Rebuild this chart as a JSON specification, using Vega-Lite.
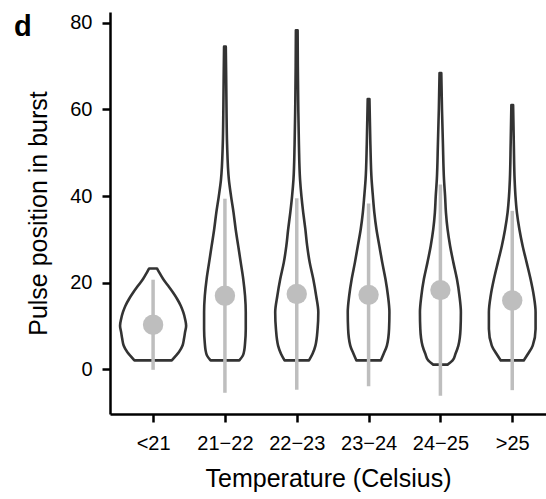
{
  "$schema": "https://vega.github.io/schema/vega-lite/v6.json",
  "width": 436,
  "height": 402,
  "padding": {"left": 14, "top": 12, "right": 0, "bottom": 5},
  "background": "white",
  "config": {"view": {"stroke": null}, "font": "Liberation Sans"},
  "title": {"text": "d", "anchor": "start", "frame": "group", "orient": "top", "offset": -53, "baseline": "alphabetic", "dx": -96, "fontSize": 29, "fontWeight": "bold", "color": "black"},
  "datasets": {
    "violin": [
      {"temp": "<21", "pos": 2.07, "density": 0.26},
      {"temp": "<21", "pos": 2.85, "density": 0.30},
      {"temp": "<21", "pos": 4.0, "density": 0.36},
      {"temp": "<21", "pos": 5.5, "density": 0.41},
      {"temp": "<21", "pos": 7.05, "density": 0.43},
      {"temp": "<21", "pos": 8.6, "density": 0.445},
      {"temp": "<21", "pos": 10.1, "density": 0.46},
      {"temp": "<21", "pos": 11.65, "density": 0.445},
      {"temp": "<21", "pos": 13.2, "density": 0.42},
      {"temp": "<21", "pos": 14.7, "density": 0.385},
      {"temp": "<21", "pos": 16.25, "density": 0.335},
      {"temp": "<21", "pos": 17.8, "density": 0.275},
      {"temp": "<21", "pos": 19.3, "density": 0.21},
      {"temp": "<21", "pos": 20.85, "density": 0.14},
      {"temp": "<21", "pos": 22.4, "density": 0.085},
      {"temp": "<21", "pos": 23.3, "density": 0.055},
      {"temp": "21−22", "pos": 2.07, "density": 0.2},
      {"temp": "21−22", "pos": 3.2, "density": 0.25},
      {"temp": "21−22", "pos": 4.5, "density": 0.27},
      {"temp": "21−22", "pos": 6.0, "density": 0.28},
      {"temp": "21−22", "pos": 9.35, "density": 0.29},
      {"temp": "21−22", "pos": 13.2, "density": 0.29},
      {"temp": "21−22", "pos": 17.0, "density": 0.28},
      {"temp": "21−22", "pos": 20.85, "density": 0.255},
      {"temp": "21−22", "pos": 24.7, "density": 0.22},
      {"temp": "21−22", "pos": 28.5, "density": 0.185},
      {"temp": "21−22", "pos": 32.3, "density": 0.15},
      {"temp": "21−22", "pos": 36.2, "density": 0.12},
      {"temp": "21−22", "pos": 40.0, "density": 0.085},
      {"temp": "21−22", "pos": 43.8, "density": 0.055},
      {"temp": "21−22", "pos": 52.0, "density": 0.03},
      {"temp": "21−22", "pos": 60.0, "density": 0.022},
      {"temp": "21−22", "pos": 68.0, "density": 0.017},
      {"temp": "21−22", "pos": 74.5, "density": 0.012},
      {"temp": "22−23", "pos": 2.07, "density": 0.17},
      {"temp": "22−23", "pos": 3.6, "density": 0.22},
      {"temp": "22−23", "pos": 5.5, "density": 0.26},
      {"temp": "22−23", "pos": 9.35, "density": 0.29},
      {"temp": "22−23", "pos": 13.2, "density": 0.30},
      {"temp": "22−23", "pos": 17.0, "density": 0.27},
      {"temp": "22−23", "pos": 20.85, "density": 0.23},
      {"temp": "22−23", "pos": 24.7, "density": 0.18},
      {"temp": "22−23", "pos": 28.5, "density": 0.145},
      {"temp": "22−23", "pos": 32.3, "density": 0.12},
      {"temp": "22−23", "pos": 36.2, "density": 0.09},
      {"temp": "22−23", "pos": 40.0, "density": 0.065},
      {"temp": "22−23", "pos": 43.8, "density": 0.046},
      {"temp": "22−23", "pos": 52.0, "density": 0.03},
      {"temp": "22−23", "pos": 62.0, "density": 0.02},
      {"temp": "22−23", "pos": 70.0, "density": 0.015},
      {"temp": "22−23", "pos": 78.3, "density": 0.012},
      {"temp": "23−24", "pos": 2.07, "density": 0.17},
      {"temp": "23−24", "pos": 3.6, "density": 0.21},
      {"temp": "23−24", "pos": 5.5, "density": 0.255},
      {"temp": "23−24", "pos": 9.35, "density": 0.285},
      {"temp": "23−24", "pos": 13.2, "density": 0.29},
      {"temp": "23−24", "pos": 17.0, "density": 0.27},
      {"temp": "23−24", "pos": 20.85, "density": 0.235},
      {"temp": "23−24", "pos": 24.7, "density": 0.19},
      {"temp": "23−24", "pos": 28.5, "density": 0.15},
      {"temp": "23−24", "pos": 32.3, "density": 0.11},
      {"temp": "23−24", "pos": 36.2, "density": 0.08},
      {"temp": "23−24", "pos": 40.0, "density": 0.06},
      {"temp": "23−24", "pos": 43.8, "density": 0.042},
      {"temp": "23−24", "pos": 52.0, "density": 0.025},
      {"temp": "23−24", "pos": 62.4, "density": 0.012},
      {"temp": "24−25", "pos": 1.1, "density": 0.1},
      {"temp": "24−25", "pos": 2.07, "density": 0.17},
      {"temp": "24−25", "pos": 3.6, "density": 0.21},
      {"temp": "24−25", "pos": 5.5, "density": 0.25},
      {"temp": "24−25", "pos": 9.35, "density": 0.28},
      {"temp": "24−25", "pos": 13.2, "density": 0.285},
      {"temp": "24−25", "pos": 17.0, "density": 0.265},
      {"temp": "24−25", "pos": 20.85, "density": 0.23},
      {"temp": "24−25", "pos": 24.7, "density": 0.18},
      {"temp": "24−25", "pos": 28.5, "density": 0.135},
      {"temp": "24−25", "pos": 32.3, "density": 0.1},
      {"temp": "24−25", "pos": 36.2, "density": 0.077},
      {"temp": "24−25", "pos": 40.0, "density": 0.065},
      {"temp": "24−25", "pos": 43.8, "density": 0.05},
      {"temp": "24−25", "pos": 52.0, "density": 0.035},
      {"temp": "24−25", "pos": 60.0, "density": 0.022},
      {"temp": "24−25", "pos": 68.4, "density": 0.012},
      {"temp": ">25", "pos": 2.07, "density": 0.16},
      {"temp": ">25", "pos": 3.6, "density": 0.22},
      {"temp": ">25", "pos": 5.5, "density": 0.285},
      {"temp": ">25", "pos": 9.35, "density": 0.325},
      {"temp": ">25", "pos": 13.2, "density": 0.325},
      {"temp": ">25", "pos": 17.0, "density": 0.3},
      {"temp": ">25", "pos": 20.85, "density": 0.255},
      {"temp": ">25", "pos": 24.7, "density": 0.2},
      {"temp": ">25", "pos": 28.5, "density": 0.145},
      {"temp": ">25", "pos": 32.3, "density": 0.1},
      {"temp": ">25", "pos": 36.2, "density": 0.065},
      {"temp": ">25", "pos": 40.0, "density": 0.045},
      {"temp": ">25", "pos": 43.8, "density": 0.033},
      {"temp": ">25", "pos": 52.0, "density": 0.022},
      {"temp": ">25", "pos": 61.0, "density": 0.012}
    ],
    "stats": [
      {"temp": "<21", "mean": 10.3, "lo": -0.1, "hi": 20.7},
      {"temp": "21−22", "mean": 17.0, "lo": -5.4, "hi": 39.4},
      {"temp": "22−23", "mean": 17.4, "lo": -4.7, "hi": 39.5},
      {"temp": "23−24", "mean": 17.2, "lo": -3.9, "hi": 38.3},
      {"temp": "24−25", "mean": 18.3, "lo": -6.1, "hi": 42.7},
      {"temp": ">25", "mean": 15.9, "lo": -4.8, "hi": 36.6}
    ]
  },
  "encoding": {
    "y": {
      "type": "quantitative",
      "scale": {"domain": [-10.3, 82.5], "nice": false, "zero": false},
      "axis": {
        "values": [0, 20, 40, 60, 80],
        "title": "Pulse position in burst",
        "grid": false,
        "domainColor": "black", "domainWidth": 2.5,
        "tickColor": "black", "tickWidth": 2.5, "tickSize": 8,
        "labelFontSize": 20, "labelColor": "black", "labelPadding": 10,
        "titleFontSize": 25, "titleFontWeight": "normal", "titleColor": "black", "titlePadding": 18
      }
    },
    "x": {
      "type": "quantitative",
      "scale": {"domain": [0.4, 6.47], "nice": false, "zero": false},
      "axis": {
        "values": [1, 2, 3, 4, 5, 6],
        "labelExpr": "['<21','21−22','22−23','23−24','24−25','>25'][datum.value - 1]",
        "title": "Temperature (Celsius)",
        "grid": false,
        "domainColor": "black", "domainWidth": 2.5,
        "tickColor": "black", "tickWidth": 2.5, "tickSize": 8,
        "labelFontSize": 20, "labelColor": "black", "labelPadding": 11,
        "labelFlush": false, "labelOverlap": false,
        "titleFontSize": 25, "titleFontWeight": "normal", "titleColor": "black", "titlePadding": 13
      }
    }
  },
  "layer": [
    {
      "data": {"name": "violin"},
      "transform": [
        {"calculate": "indexof(['<21','21−22','22−23','23−24','24−25','>25'], datum.temp) + 1", "as": "idx"},
        {"calculate": "datum.idx - datum.density", "as": "left"},
        {"calculate": "datum.idx + datum.density", "as": "right"}
      ],
      "mark": {"type": "area", "orient": "horizontal", "interpolate": "monotone", "fill": "white", "stroke": "#333333", "strokeWidth": 2.6, "strokeJoin": "round"},
      "encoding": {
        "y": {"field": "pos", "type": "quantitative"},
        "x": {"field": "left", "type": "quantitative"},
        "x2": {"field": "right"},
        "detail": {"field": "temp"}
      }
    },
    {
      "data": {"name": "stats"},
      "transform": [
        {"calculate": "indexof(['<21','21−22','22−23','23−24','24−25','>25'], datum.temp) + 1", "as": "idx"}
      ],
      "mark": {"type": "rule", "color": "#BEBEBE", "strokeWidth": 3.5},
      "encoding": {
        "y": {"field": "lo", "type": "quantitative"},
        "y2": {"field": "hi"},
        "x": {"field": "idx", "type": "quantitative"}
      }
    },
    {
      "data": {"name": "stats"},
      "transform": [
        {"calculate": "indexof(['<21','21−22','22−23','23−24','24−25','>25'], datum.temp) + 1", "as": "idx"}
      ],
      "mark": {"type": "point", "filled": true, "color": "#BEBEBE", "opacity": 1, "size": 415},
      "encoding": {
        "y": {"field": "mean", "type": "quantitative"},
        "x": {"field": "idx", "type": "quantitative"}
      }
    }
  ]
}
